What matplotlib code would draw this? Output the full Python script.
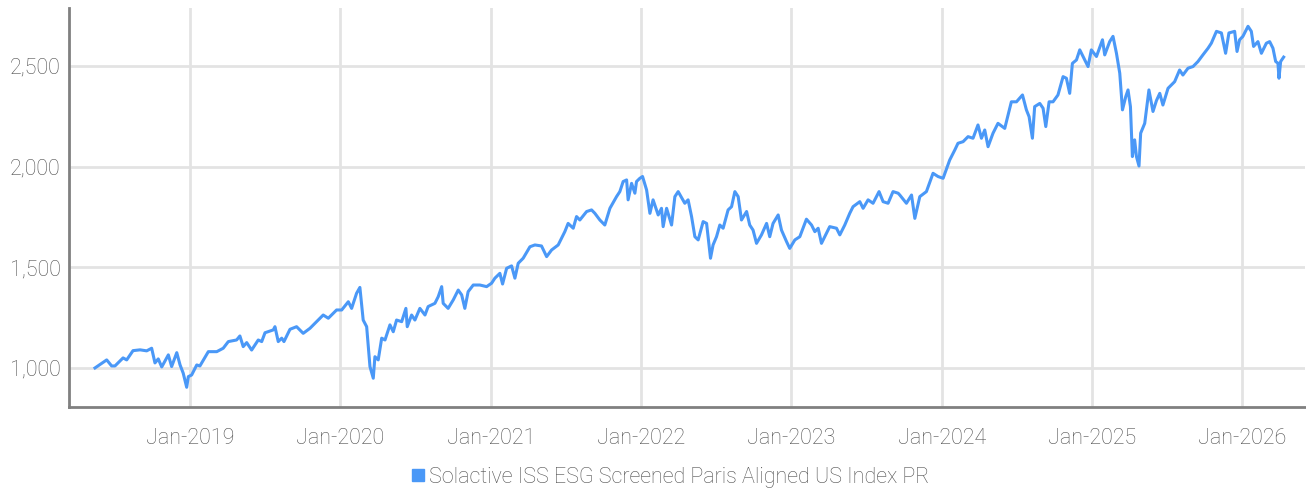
import matplotlib.pyplot as plt
import matplotlib.ticker as mticker
from matplotlib.lines import Line2D

# time as decimal years
years = [
    2018.368, 2018.446, 2018.479, 2018.501, 2018.555, 2018.579, 2018.621, 2018.668, 2018.712, 2018.745,
    2018.767, 2018.789, 2018.812, 2018.856, 2018.878, 2018.912, 2018.934, 2018.955, 2018.978, 2018.989,
    2019.011, 2019.045, 2019.066, 2019.122, 2019.178, 2019.221, 2019.255, 2019.310, 2019.332, 2019.354,
    2019.377, 2019.410, 2019.454, 2019.477, 2019.499, 2019.554, 2019.565, 2019.587, 2019.610, 2019.625,
    2019.665, 2019.709, 2019.753, 2019.798, 2019.842, 2019.886, 2019.920, 2019.975, 2020.009, 2020.053,
    2020.075, 2020.108, 2020.130, 2020.152, 2020.175, 2020.197, 2020.219, 2020.230, 2020.252, 2020.275,
    2020.297, 2020.330, 2020.352, 2020.374, 2020.408, 2020.436, 2020.445, 2020.474, 2020.496, 2020.529,
    2020.563, 2020.584, 2020.629, 2020.651, 2020.674, 2020.684, 2020.717, 2020.751, 2020.784, 2020.807,
    2020.828, 2020.850, 2020.884, 2020.928, 2020.973, 2021.006, 2021.028, 2021.061, 2021.079, 2021.106,
    2021.139, 2021.161, 2021.183, 2021.216, 2021.261, 2021.294, 2021.338, 2021.372, 2021.405, 2021.449,
    2021.493, 2021.515, 2021.549, 2021.571, 2021.593, 2021.638, 2021.671, 2021.693, 2021.726, 2021.759,
    2021.793, 2021.837, 2021.859, 2021.881, 2021.904, 2021.914, 2021.937, 2021.959, 2021.970, 2021.992,
    2022.010, 2022.037, 2022.059, 2022.080, 2022.114, 2022.136, 2022.147, 2022.170, 2022.203, 2022.225,
    2022.247, 2022.291, 2022.313, 2022.336, 2022.358, 2022.380, 2022.413, 2022.436, 2022.462, 2022.479,
    2022.502, 2022.524, 2022.546, 2022.579, 2022.602, 2022.624, 2022.646, 2022.668, 2022.702, 2022.723,
    2022.745, 2022.768, 2022.801, 2022.835, 2022.856, 2022.878, 2022.912, 2022.934, 2022.968, 2022.989,
    2023.023, 2023.056, 2023.100, 2023.134, 2023.156, 2023.178, 2023.200, 2023.233, 2023.255, 2023.300,
    2023.322, 2023.355, 2023.388, 2023.410, 2023.455, 2023.477, 2023.510, 2023.543, 2023.583, 2023.610,
    2023.643, 2023.676, 2023.710, 2023.721, 2023.765, 2023.799, 2023.821, 2023.854, 2023.898, 2023.942,
    2023.975, 2024.009, 2024.053, 2024.087, 2024.108, 2024.142, 2024.175, 2024.208, 2024.241, 2024.264,
    2024.286, 2024.308, 2024.341, 2024.374, 2024.419, 2024.463, 2024.497, 2024.537, 2024.563, 2024.581,
    2024.603, 2024.618, 2024.652, 2024.674, 2024.692, 2024.714, 2024.740, 2024.773, 2024.807, 2024.829,
    2024.851, 2024.869, 2024.896, 2024.918, 2024.973, 2024.995, 2025.029, 2025.069, 2025.084, 2025.117,
    2025.139, 2025.162, 2025.184, 2025.202, 2025.224, 2025.239, 2025.255, 2025.268, 2025.283, 2025.295,
    2025.312, 2025.323, 2025.350, 2025.378, 2025.405, 2025.428, 2025.450, 2025.471, 2025.505, 2025.549,
    2025.582, 2025.604, 2025.638, 2025.671, 2025.704, 2025.737, 2025.771, 2025.793, 2025.827, 2025.860,
    2025.888, 2025.910, 2025.948, 2025.964, 2025.981, 2026.003, 2026.037, 2026.059, 2026.074, 2026.103,
    2026.126, 2026.159, 2026.181, 2026.203, 2026.221, 2026.236, 2026.243, 2026.254, 2026.274,
]
values = [
    1000, 1040, 1010, 1010, 1050, 1040, 1086, 1090, 1085, 1098,
    1025, 1045, 1005, 1065, 1007, 1076, 1015, 974, 904, 957,
    965, 1015, 1010, 1081, 1081, 1098, 1131, 1139, 1159, 1106,
    1126, 1089, 1139, 1131, 1175, 1189, 1205, 1131, 1148, 1131,
    1192, 1205, 1172, 1197, 1230, 1263, 1247, 1288, 1288, 1329,
    1296, 1371, 1400, 1238, 1205, 1007, 949, 1056, 1040, 1148,
    1139, 1214, 1180, 1238, 1230, 1296, 1205, 1263, 1238, 1296,
    1263, 1305, 1321, 1354, 1404, 1321, 1296, 1338, 1387, 1363,
    1296, 1379, 1412, 1412, 1404, 1421, 1446, 1470, 1417, 1495,
    1507, 1446, 1520, 1545, 1602, 1611, 1606, 1553, 1586, 1611,
    1677, 1718, 1694, 1752, 1735, 1777, 1785, 1768, 1735, 1710,
    1793, 1851, 1876, 1926, 1934, 1835, 1917, 1868, 1926, 1942,
    1951, 1884, 1768, 1835, 1760, 1793, 1702, 1793, 1710, 1851,
    1876, 1818, 1835, 1752, 1652, 1636, 1727, 1718, 1545, 1611,
    1652, 1710, 1694, 1785, 1801, 1876, 1851, 1735, 1777, 1710,
    1685, 1619, 1661, 1718, 1652, 1718, 1760, 1685, 1627, 1594,
    1636, 1652, 1739, 1710, 1677, 1694, 1619, 1669, 1702, 1694,
    1661, 1710, 1768, 1801, 1826, 1793, 1835, 1818, 1876, 1826,
    1818, 1876, 1868, 1859, 1818, 1859, 1743, 1851, 1876, 1967,
    1951, 1942, 2033, 2083, 2116, 2124, 2149, 2141, 2207, 2141,
    2182, 2099, 2166, 2215, 2190, 2322, 2322, 2356, 2282, 2248,
    2141, 2298, 2314, 2290, 2199, 2322, 2322, 2356, 2447, 2439,
    2364, 2513, 2530, 2580, 2497, 2580, 2547, 2630, 2555, 2621,
    2647, 2563, 2464, 2282, 2348, 2381, 2298, 2050, 2133, 2050,
    2003, 2166, 2215, 2381, 2274, 2328, 2364, 2306, 2389, 2422,
    2480, 2455, 2489, 2497, 2522, 2555, 2588, 2613, 2672, 2664,
    2563, 2664, 2672, 2572, 2630, 2647, 2697, 2672, 2597, 2621,
    2563, 2613, 2621, 2588, 2522, 2514, 2439, 2522, 2544,
]
year_ticks = [2019, 2020, 2021, 2022, 2023, 2024, 2025, 2026]
year_labels = ['Jan-2019', 'Jan-2020', 'Jan-2021', 'Jan-2022', 'Jan-2023', 'Jan-2024', 'Jan-2025', 'Jan-2026']
y_ticks = [1000, 1500, 2000, 2500]
series_name = 'Solactive ISS ESG Screened Paris Aligned US Index PR'

plt.rcParams['font.family'] = ['Roboto', 'DejaVu Sans']
plt.rcParams['font.weight'] = 'light'

line_color = '#4a98f7'
text_color = '#505050'
grid_color = '#e3e3e3'

fig = plt.figure(figsize=(13.06, 4.93), dpi=100)
ax = fig.add_axes([0.0528, 0.1744, 0.9462, 0.8094])

ax.plot(years, values, color=line_color, linewidth=2.2, solid_joinstyle='round')

ax.set_xlim(2018.195, 2026.414)
ax.set_ylim(806, 2788)
ax.set_xticks(year_ticks)
ax.set_xticklabels(year_labels)
ax.set_yticks(y_ticks)
ax.yaxis.set_major_formatter(mticker.FuncFormatter(lambda v, p: f'{int(v):,}'))

ax.grid(True, color=grid_color, linewidth=2)
ax.set_axisbelow(True)
for side in ['top', 'right']:
    ax.spines[side].set_visible(False)
for side in ['left', 'bottom']:
    ax.spines[side].set_color('#808080')
    ax.spines[side].set_linewidth(2)
ax.tick_params(length=0, labelsize=15.5, labelcolor=text_color, pad=6)
ax.tick_params(axis='x', pad=15)

handle = Line2D([], [], color=line_color, marker='s', linestyle='none', markersize=8)
fig.legend([handle], [series_name], loc='center', bbox_to_anchor=(669 / 1306, 1 - 477 / 493),
           frameon=False, fontsize=15.5, labelcolor=text_color, handletextpad=0.1, handlelength=0.8)

fig.savefig('out.png', dpi=100)
